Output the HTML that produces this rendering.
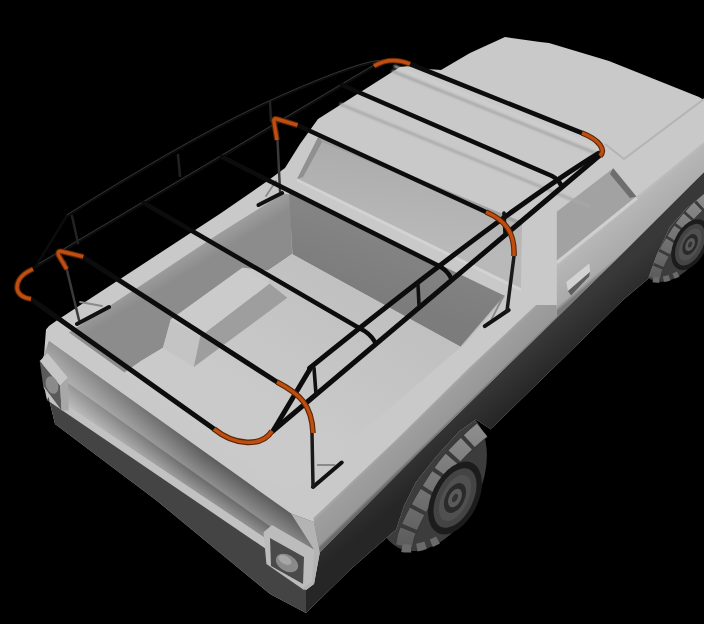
<!DOCTYPE html>
<html><head><meta charset="utf-8"><style>
html,body{margin:0;padding:0;background:#000;width:704px;height:624px;overflow:hidden}
svg{display:block}
</style></head><body>
<svg width="704" height="624" viewBox="0 0 704 624">
<defs>
<filter id="blur1" x="-10%" y="-10%" width="120%" height="120%"><feGaussianBlur stdDeviation="1.3"/></filter>
<linearGradient id="sideG" gradientUnits="userSpaceOnUse" x1="396" y1="440" x2="413.4" y2="458"><stop offset="0" stop-color="#a6a6a6"/><stop offset="0.1" stop-color="#9e9e9e"/><stop offset="0.88" stop-color="#989898"/><stop offset="1" stop-color="#6a6a6a"/></linearGradient>
<linearGradient id="tailG" gradientUnits="userSpaceOnUse" x1="110" y1="385" x2="86.1" y2="418.7"><stop offset="0" stop-color="#5c5c5c"/><stop offset="0.54" stop-color="#8e8e8e"/><stop offset="0.56" stop-color="#6c6c6c"/><stop offset="1" stop-color="#a4a4a4"/></linearGradient>
<linearGradient id="doorG" gradientUnits="userSpaceOnUse" x1="600" y1="225" x2="625" y2="255"><stop offset="0" stop-color="#c2c2c2"/><stop offset="0.15" stop-color="#b6b6b6"/><stop offset="0.9" stop-color="#aaaaaa"/><stop offset="1" stop-color="#7a7a7a"/></linearGradient>
<linearGradient id="tailHi" gradientUnits="userSpaceOnUse" x1="50" y1="360" x2="200" y2="465"><stop offset="0" stop-color="#fff" stop-opacity="0.35"/><stop offset="1" stop-color="#fff" stop-opacity="0"/></linearGradient>
<linearGradient id="bandG" gradientUnits="userSpaceOnUse" x1="450" y1="410" x2="475" y2="440"><stop offset="0" stop-color="#383838"/><stop offset="1" stop-color="#262626"/></linearGradient>
<linearGradient id="farWallG" gradientUnits="userSpaceOnUse" x1="180" y1="259.4" x2="187.9" y2="272.2"><stop offset="0" stop-color="#9c9c9c"/><stop offset="1" stop-color="#8c8c8c"/></linearGradient>
<linearGradient id="frontWallG" gradientUnits="userSpaceOnUse" x1="400" y1="240" x2="380" y2="300"><stop offset="0" stop-color="#848484"/><stop offset="1" stop-color="#7c7c7c"/></linearGradient><linearGradient id="floorG" gradientUnits="userSpaceOnUse" x1="380" y1="300" x2="300" y2="430"><stop offset="0" stop-color="#c0c0c0"/><stop offset="1" stop-color="#cacaca"/></linearGradient>
<linearGradient id="winG" gradientUnits="userSpaceOnUse" x1="400" y1="160" x2="390" y2="240"><stop offset="0" stop-color="#adadad"/><stop offset="1" stop-color="#b9b9b9"/></linearGradient>
</defs>
<rect width="704" height="624" fill="#000"/>

<!-- ===== WHEELS ===== -->
<defs>
<linearGradient id="treadG" gradientUnits="userSpaceOnUse" x1="0" y1="-55" x2="0" y2="65"><stop offset="0" stop-color="#8e8e8e"/><stop offset="1" stop-color="#5c5c5c"/></linearGradient>
<g id="wheel">
<g transform="rotate(26.5)">
<ellipse cx="0" cy="0" rx="48.4" ry="75.6" fill="#3c3c3c"/>
</g>
<path d="M50,-50 C38,-40 22,-26 8,-6 C-4,12 -18,34 -26,56 L-28,66" fill="none" stroke="#3a3a3a" stroke-width="18"/>
<path d="M50,-50 C38,-40 22,-26 8,-6 C-4,12 -18,34 -26,56 L-28,66" fill="none" stroke="url(#treadG)" stroke-width="16" stroke-dasharray="17 4"/>
<path d="M-30,68 C-20,70 -5,66 6,60" fill="none" stroke="#6a6a6a" stroke-width="8" stroke-dasharray="9 6"/>
<g transform="translate(23 18) rotate(26.5)">
<ellipse rx="23" ry="39" fill="#1c1c1c"/>
<ellipse rx="18" ry="32" fill="#444"/>
<ellipse rx="13" ry="25" fill="#505050"/>
<ellipse rx="9.5" ry="16" fill="#2a2a2a"/>
<ellipse rx="6" ry="10" fill="#5a5a5a"/>
<ellipse rx="2.5" ry="4.5" fill="#333"/>
</g>
</g>
</defs>
<use href="#wheel" transform="translate(432 480)"/>
<use href="#wheel" transform="translate(674 232) scale(0.7)"/>
<!-- ===== BODY SILHOUETTE (light) ===== -->
<polygon fill="#c9c9c9" points="56,321 220,213.7 266,182 285,168 300,144 318,119 400,67 409,66 427,69 441,70 470,53 505,37 540,42 549,43 609,61 699,97 704,100 704,194 686,209 670,227 657,254 648,279 623,300 490.6,429.2 476,419.6 459,431.6 435,458 416,482 404,506 396,530 392,533 352,568 306,613 270,594 156,500 55,424 48.5,397 43.7,387.7 42,360 44,355 46,329.6 49,326"/>

<!-- dark band -->
<polygon fill="url(#bandG)" points="319,553 420,451.5 493,380 615.7,260 704,172 704,194 686,209 670,227 657,254 648,279 623,300 490.6,429.2 476,419.6 459,431.6 435,458 416,482 404,506 396,530 392,533 352,568 306,613 306,590 314,584 319.8,552.5"/>
<!-- side face -->
<polygon fill="url(#sideG)" points="313.5,518 396,440 470,367 536,305 556.8,305 556.8,318 493,380 420,451.5 319,553"/>
<polygon fill="url(#doorG)" points="556.8,260.5 636.3,196.4 704,142 704,172 615.7,260 556.8,318"/>

<!-- ===== REAR ===== -->
<!-- tailgate face -->
<polygon fill="url(#tailG)" points="49,341 291,513.5 314,522 319.8,552.5 268,540 45,391 44,355"/>
<polygon fill="url(#tailHi)" points="49,341 291,513.5 268,540 45,391 44,355"/>
<!-- bumper strip -->
<polygon fill="#c2c2c2" points="45,391 268,540 266,549 47,400"/>
<!-- bumper face dark -->
<polygon fill="#444444" points="47,400 266,549 306,590 306,613 270,594 156,500 55,424 48.5,397"/>
<!-- right taillight -->
<polygon fill="#bcbcbc" points="263.5,532.3 272,525 314,549.6 312.6,584 304,590 266.4,564"/>
<polygon fill="#4a4a4a" points="270,538 304,557 303,584 271,566"/>
<ellipse cx="287" cy="563" rx="12" ry="8" transform="rotate(30 287 563)" fill="#8a8a8a"/><ellipse cx="285" cy="560" rx="7" ry="4" transform="rotate(30 285 560)" fill="#a6a6a6"/>
<!-- rear right corner column -->
<polygon fill="#b4b4b4" points="291,513.5 314,522 319.8,552.5 314,584 306,590 303,588 312,582 314,549.6"/>
<!-- left taillight -->
<polygon fill="#c6c6c6" points="39.7,361.1 47.6,353.2 67.9,377.8 60,385.8"/>
<polygon fill="#5a5a5a" points="39.7,361.1 60,385.8 61.7,410.4 43.2,385.8"/>
<polygon fill="#a8a8a8" points="60,385.8 67.9,377.8 68.8,410.4 61.7,410.4"/>
<ellipse cx="52" cy="385" rx="6" ry="9" transform="rotate(-20 52 385)" fill="#8a8a8a"/>

<!-- ===== BED ===== -->
<polygon fill="url(#farWallG)" points="68.9,332.5 140,286 220,232.9 283.5,193.5 290.2,194.4 292.1,254 268,270.4 242.6,267.7 170.8,319.5 163,347.7 141,361 124.5,372.5"/>
<polygon fill="url(#frontWallG)" points="289,192 505,296 461,347 292.5,254.5"/>
<polygon fill="url(#floorG)" points="292.1,254 461,347 300,485 282,489 124.5,372.5 141,361 163,347.7 193.8,367 287.4,297.7 269.5,283.6 268,270.4"/>
<!-- hump -->
<polygon fill="#c4c4c4" points="170.8,319.5 200.3,336.2 193.8,367 163,347.7"/>
<polygon fill="#9e9e9e" points="200.3,336.2 269.5,283.6 287.4,297.7 193.8,367"/>
<polygon fill="#cbcbcb" points="170.8,319.5 242.6,267.7 269.5,283.6 200.3,336.2"/>

<!-- ===== CAB ===== -->
<!-- rear window -->
<polygon fill="url(#winG)" points="318.5,136.5 522,222 521,288 297.3,178.8"/>
<polygon fill="#a2a2a2" points="318.5,136.5 522,222 522,226 322,142 303,177 297.3,178.8"/><polygon fill="#909090" points="318.5,136.5 322,142 303,177 297.3,178.8"/><path d="M297,180 L521,290" stroke="#d2d2d2" stroke-width="3"/>
<!-- side window -->
<polygon fill="#a2a2a2" points="556.8,211.8 613.2,168.2 636.3,196.4 556.8,260.5"/>
<polygon fill="#6e6e6e" points="613.2,168.2 636.3,196.4 630,198 610,174"/>
<path d="M557,262.5 L637,198" stroke="#cfcfcf" stroke-width="3"/>
<polygon fill="#d2d2d2" points="566.3,282 589.4,263.3 590,272 568,291"/>
<polygon fill="#5e5e5e" points="568,291 590,272 589,276.5 571,295.4"/>

<!-- roof ridges -->
<g filter="url(#blur1)" fill="none">
<path d="M392,71 L600,155" stroke="#a6a6a6" stroke-width="2.5"/>
<path d="M340,104 L590,207" stroke="#a8a8a8" stroke-width="2.5"/>
<path d="M394,66 L602,150" stroke="#d0d0d0" stroke-width="2"/>
</g>
<path d="M605,144 L624,159 L704,99" stroke="#b4b4b4" stroke-width="2" fill="none"/>
<path d="M461,347 L505,296" stroke="#bdbdbd" stroke-width="1.5" fill="none"/>
<!-- ===== RACK ===== -->
<g fill="none" stroke-linecap="round">
<path d="M66.7,216 Q200,132 282,96 T382.7,61.3" stroke="#0c0c0c" stroke-width="3"/>
<path d="M66.7,215 Q200,131 282,95 T382.7,60.3" stroke="#3c3c3c" stroke-width="0.8"/>
<path d="M35,267 L374,66" stroke="#0c0c0c" stroke-width="3.5"/>
<path d="M35,266 L374,65" stroke="#404040" stroke-width="0.8"/>
<path d="M35.4,267 L66.7,216" stroke="#0c0c0c" stroke-width="2.5"/>
<path d="M72,216 L78,243 M178,155 L180,176 M270,102 L271,121" stroke="#222" stroke-width="2.5"/>
<path d="M65,262 L79,320 M277,130 L280,191" stroke="#3a3a3a" stroke-width="2.5"/>
<!-- leg feet -->
<path d="M80,302 L102,306 M266,196 L276,181 M317.7,465 L334.5,465 M503.5,296 L491.6,319" stroke="#8a8a8a" stroke-width="1.8"/>
<path d="M77,324 L109,307 M258.5,205 L282,193 M313,487 L341.7,462.5 M484.8,326.2 L508.6,310" stroke="#111" stroke-width="4"/>
<path d="M31,299 L214,429" stroke="#0c0c0c" stroke-width="5"/>
<path d="M83,257 L277,382" stroke="#0c0c0c" stroke-width="5"/>
<path d="M144,203 L359,328 Q370,333 375,342" stroke="#0c0c0c" stroke-width="4.6"/>
<path d="M222,157 L439,266 Q447,270 451,278" stroke="#0c0c0c" stroke-width="4.6"/>
<path d="M297,125 L486,212" stroke="#0c0c0c" stroke-width="4.6"/>
<path d="M342,85 L552,176 Q558,179 561,185" stroke="#0c0c0c" stroke-width="4.6"/>
<path d="M410,64 L582,133" stroke="#0c0c0c" stroke-width="4.6"/>
<path d="M274,430 L600,155" stroke="#0c0c0c" stroke-width="5"/>
<path d="M309.6,368.1 Q505.6,210.1 598.5,153.3" stroke="#0c0c0c" stroke-width="5"/>
<path d="M273,431 L310,369" stroke="#0c0c0c" stroke-width="5"/>
<path d="M314,368 L316,394 M418,285 L419,305 M504,213 L505,233" stroke="#111" stroke-width="3.6"/>
<path d="M312,433 L313,486 M514,256 L507,311" stroke="#1a1a1a" stroke-width="3.5"/>








<g stroke-linecap="butt">
<path d="M33,269 Q17,276 17,288 Q18,297 31,299" stroke="#5a2606" stroke-width="5.6"/>
<path d="M214,429 C235,446 262,447 272,431" stroke="#5a2606" stroke-width="5.6"/>
<path d="M277,382 C300,394 312,405 313,433" stroke="#5a2606" stroke-width="5.6"/>
<path d="M83.3,256.7 L62,251.5 Q57,250.5 58.5,255 L66.7,269.2" stroke="#5a2606" stroke-width="5.6"/>
<path d="M297.5,125.2 L277,119 Q273,118 274,122 L277,140" stroke="#5a2606" stroke-width="5.6"/>
<path d="M486,212 C505,220 515,232 514,256" stroke="#5a2606" stroke-width="5.6"/>
<path d="M374,66 Q391,56 410,64" stroke="#5a2606" stroke-width="5.6"/>
<path d="M582,133 C600,140 606,150 600,156" stroke="#5a2606" stroke-width="5.6"/>
<path d="M33,269 Q17,276 17,288 Q18,297 31,299" stroke="#bf4e10" stroke-width="3.4"/>
<path d="M214,429 C235,446 262,447 272,431" stroke="#bf4e10" stroke-width="3.4"/>
<path d="M277,382 C300,394 312,405 313,433" stroke="#bf4e10" stroke-width="3.4"/>
<path d="M83.3,256.7 L62,251.5 Q57,250.5 58.5,255 L66.7,269.2" stroke="#bf4e10" stroke-width="3.4"/>
<path d="M297.5,125.2 L277,119 Q273,118 274,122 L277,140" stroke="#bf4e10" stroke-width="3.4"/>
<path d="M486,212 C505,220 515,232 514,256" stroke="#bf4e10" stroke-width="3.4"/>
<path d="M374,66 Q391,56 410,64" stroke="#bf4e10" stroke-width="3.4"/>
<path d="M582,133 C600,140 606,150 600,156" stroke="#bf4e10" stroke-width="3.4"/>
</g>
</g>
</svg>
</body></html>
